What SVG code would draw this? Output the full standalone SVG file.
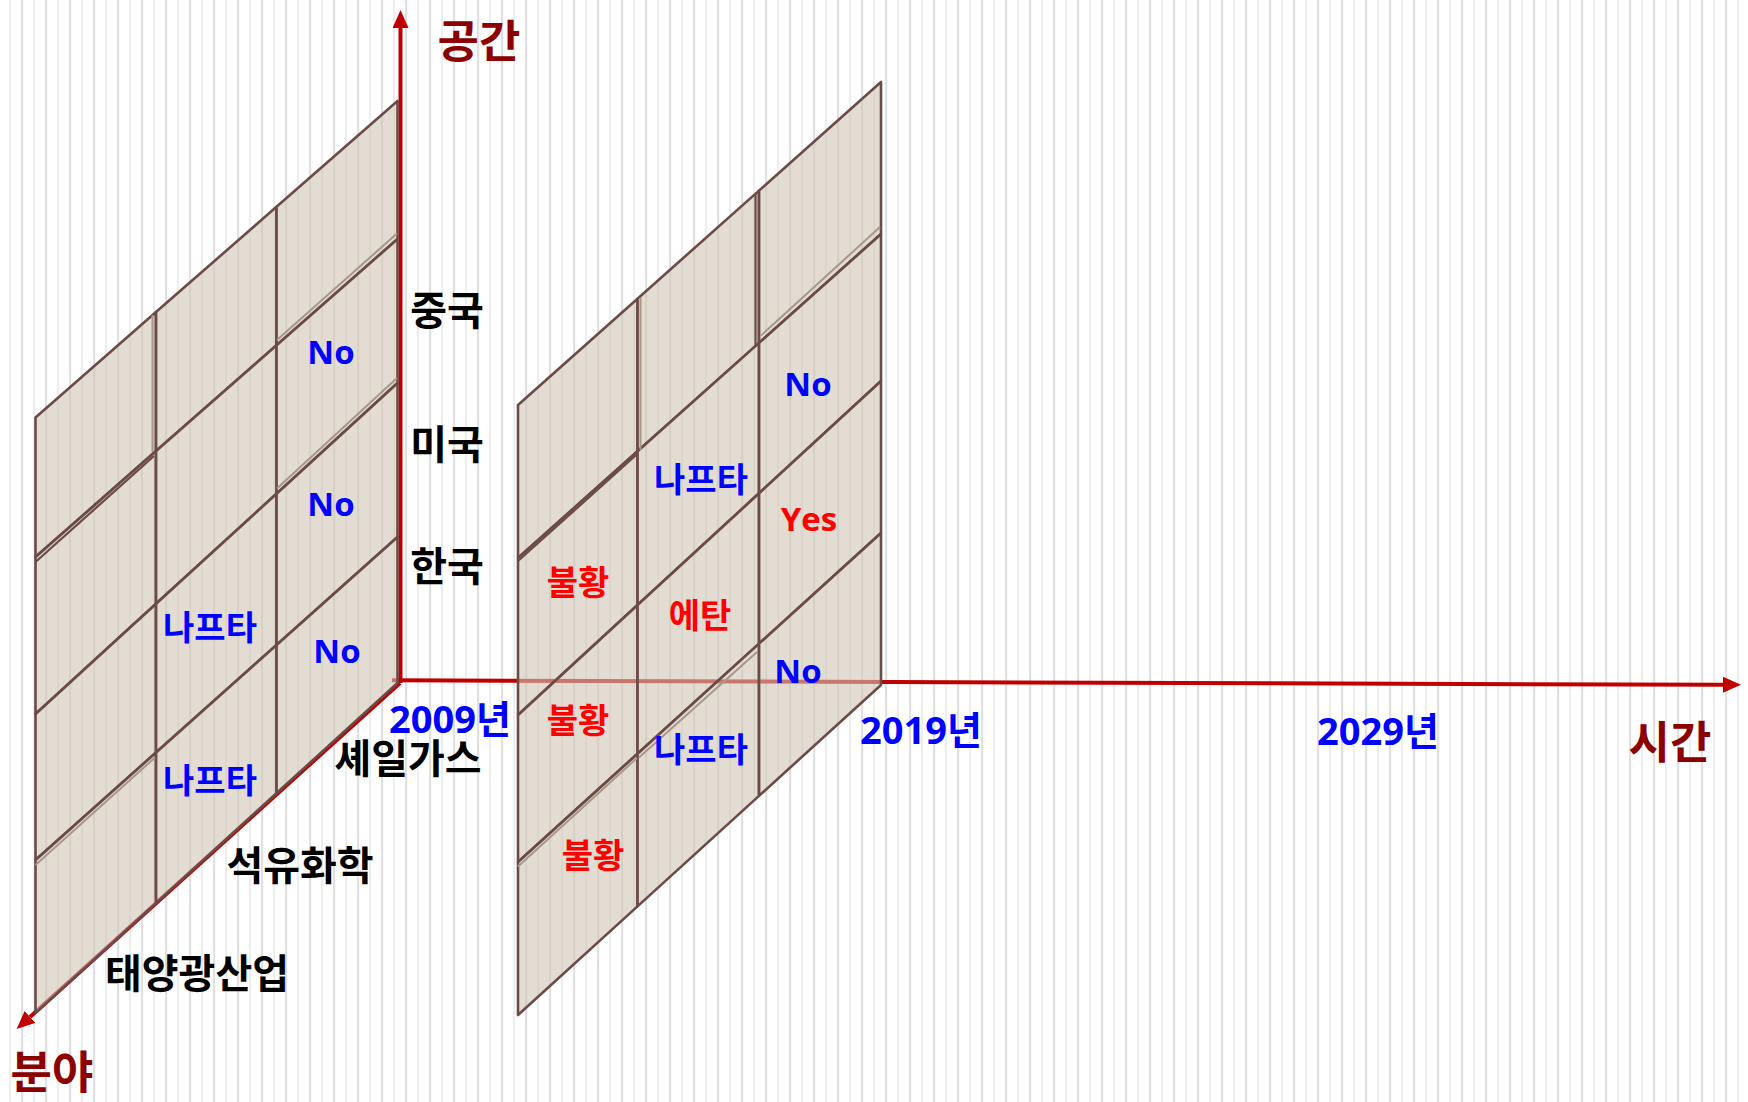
<svg xmlns="http://www.w3.org/2000/svg" width="1748" height="1102" viewBox="0 0 1748 1102">
<defs>
<pattern id="stripes" x="0" y="0" width="24" height="10" patternUnits="userSpaceOnUse">
<rect x="9.4" y="0" width="1.3" height="10" fill="#e4e4e4"/>
<rect x="21" y="0" width="2.2" height="10" fill="#e0e0e0"/>
</pattern>
<marker id="arr" viewBox="0 0 18 16" refX="0" refY="8" markerWidth="18" markerHeight="16" markerUnits="userSpaceOnUse" orient="auto">
<path d="M0,0 L18,8 L0,16 z" fill="#c00000"/>
</marker>
<style>
.cell{fill:#cfc5b6;fill-opacity:0.6;stroke:#6b4b48;stroke-width:2.6;stroke-linejoin:round}
.lt{stroke:#a89789;stroke-width:2;fill:none}
.dk{stroke:#6b4b48;stroke-width:2.2;fill:none}
.axis{stroke:#c00000;stroke-width:4;fill:none;marker-end:url(#arr)}
text{font-family:"Open Sans","Noto Sans CJK KR","Noto Sans",sans-serif;font-weight:bold;text-anchor:middle}
.ax{fill:#8b0000;font-size:45px}
.lbl{fill:#000000;font-size:40px}
.yr{fill:#0000ff;font-size:38px}
.cb{fill:#0000ff;font-size:34px}
.cr{fill:#ff0000;font-size:34px}
.lat{font-size:33px}
</style>
</defs>
<rect x="0" y="0" width="1748" height="1102" fill="#ffffff"/>
<rect x="0" y="0" width="1748" height="1102" fill="url(#stripes)"/>

<g id="connectors">
<path class="axis" d="M400.5,683 L400.5,28"/>
<path class="axis" d="M392,680.3 L1723,684.8"/>
<path class="axis" d="M400,683 L30,1017"/>
</g>

<g id="panel-2009">
<polygon class="cell" points="35.5,417.5 156,312.1 156,451.1 35.5,557"/>
<polygon class="cell" points="156,312.1 276.5,206.8 276.5,345.3 156,451.1"/>
<polygon class="cell" points="276.5,206.8 397.5,101 397.5,239 276.5,345.3"/>
<polygon class="cell" points="35.5,557 156,451.1 156,603.8 35.5,714"/>
<polygon class="cell" points="156,451.1 276.5,345.3 276.5,493.7 156,603.8"/>
<polygon class="cell" points="276.5,345.3 397.5,239 397.5,383 276.5,493.7"/>
<polygon class="cell" points="35.5,714 156,603.8 156,752.5 35.5,860"/>
<polygon class="cell" points="156,603.8 276.5,493.7 276.5,645 156,752.5"/>
<polygon class="cell" points="276.5,493.7 397.5,383 397.5,537 276.5,645"/>
<polygon class="cell" points="35.5,860 156,752.5 156,903.1 35.5,1013"/>
<polygon class="cell" points="156,752.5 276.5,645 276.5,793.3 156,903.1"/>
<polygon class="cell" points="276.5,645 397.5,537 397.5,683 276.5,793.3"/>
<line class="lt" x1="152.5" y1="315" x2="152.5" y2="452"/>
<line class="dk" x1="35.5" y1="562" x2="154" y2="456"/>
<line class="lt" x1="277" y1="340" x2="397" y2="233.5"/>
<line class="lt" x1="277" y1="488.5" x2="397" y2="378"/>
<line class="lt" x1="35.5" y1="865" x2="155" y2="757.5"/>
<text class="cb lat" x="331" y="364">No</text>
<text class="cb lat" x="331" y="516">No</text>
<text class="cb" x="210" y="640">나프타</text>
<text class="cb lat" x="337" y="663">No</text>
<text class="cb" x="210" y="793">나프타</text>
</g>

<g id="panel-2019">
<polygon class="cell" points="518,405 637.5,298.7 637.5,451.3 518,558"/>
<polygon class="cell" points="637.5,298.7 759,190.6 759,342.9 637.5,451.3"/>
<polygon class="cell" points="759,190.6 881,82 881,234 759,342.9"/>
<polygon class="cell" points="518,558 637.5,451.3 637.5,605 518,715"/>
<polygon class="cell" points="637.5,451.3 759,342.9 759,493.3 637.5,605"/>
<polygon class="cell" points="759,342.9 881,234 881,381 759,493.3"/>
<polygon class="cell" points="518,715 637.5,605 637.5,753.7 518,862"/>
<polygon class="cell" points="637.5,605 759,493.3 759,643.6 637.5,753.7"/>
<polygon class="cell" points="759,493.3 881,381 881,533 759,643.6"/>
<polygon class="cell" points="518,862 637.5,753.7 637.5,906.4 518,1015"/>
<polygon class="cell" points="637.5,753.7 759,643.6 759,795.9 637.5,906.4"/>
<polygon class="cell" points="759,643.6 881,533 881,685 759,795.9"/>
<line class="lt" x1="640.5" y1="298" x2="640.5" y2="450"/>
<line class="dk" x1="755.5" y1="194" x2="755.5" y2="345"/>
<line class="dk" x1="518" y1="561" x2="637" y2="454.3"/>
<line class="lt" x1="761" y1="335.5" x2="880" y2="227"/>
<line class="lt" x1="518" y1="866.5" x2="637" y2="758"/>
<line class="lt" x1="639" y1="757.5" x2="757" y2="652"/>
<text class="cb lat" x="808" y="396">No</text>
<text class="cb" x="701" y="492">나프타</text>
<text class="cr lat" x="809" y="531">Yes</text>
<text class="cr" x="578" y="595">불황</text>
<text class="cr" x="700" y="628">에탄</text>
<text class="cr" x="578" y="733">불황</text>
<text class="cb" x="701" y="762">나프타</text>
<text class="cb lat" x="798" y="683">No</text>
<text class="cr" x="593" y="868">불황</text>
</g>

<g id="axis-labels">
<text class="ax" x="479" y="58">공간</text>
<text class="ax" x="1670" y="759">시간</text>
<text class="ax" x="52" y="1089">분야</text>
</g>

<g id="space-labels">
<text class="lbl" x="447" y="325">중국</text>
<text class="lbl" x="447" y="459">미국</text>
<text class="lbl" x="447" y="581">한국</text>
</g>

<g id="field-labels">
<text class="lbl" x="408" y="773">셰일가스</text>
<text class="lbl" x="300" y="880">석유화학</text>
<text class="lbl" x="197" y="988">태양광산업</text>
</g>

<g id="time-labels">
<text class="yr" x="450" y="733">2009년</text>
<text class="yr" x="921" y="744">2019년</text>
<text class="yr" x="1378" y="745">2029년</text>
</g>
</svg>
